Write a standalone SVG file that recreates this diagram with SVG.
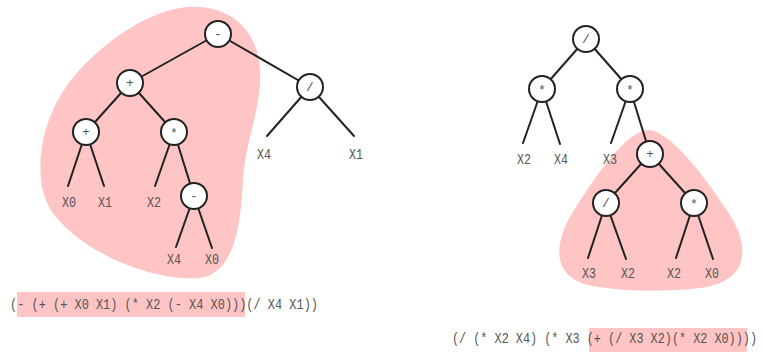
<svg xmlns="http://www.w3.org/2000/svg" width="762" height="353" viewBox="0 0 762 353">
<style>
.blob{fill:#ffc4c4;stroke:none}
.edge{stroke:#222;stroke-width:2;fill:none;stroke-linecap:round}
.node circle{fill:#fff;stroke:#222;stroke-width:2}
text{font-family:"Liberation Mono","DejaVu Sans Mono",monospace;fill:#555;font-size:15px}
.op{font-size:13px;text-anchor:middle}
.leaf{text-anchor:middle}
.hl{fill:#ffc4c4}
</style>
<rect width="762" height="353" fill="#fff"/>
<g id="highlights">
<path class="blob" d="M187 7 C230 4 258 30 260 70 C262 110 245 140 243 180 C241 220 236 268 205 277 C170 284 90 262 52 212 C32 182 38 125 68 84 C100 42 150 10 187 7 Z"/>
<path class="blob" d="M648 130 C668 130 700 170 728 212 C752 248 748 282 700 288 C665 292 620 292 588 285 C553 276 552 245 574 210 C598 172 628 130 648 130 Z"/>
<rect class="hl" x="17" y="292" width="228" height="25"/>
<rect class="hl" x="589" y="328" width="158" height="24"/>
</g>
<g id="connectors">
<line class="edge" x1="218" y1="34" x2="130" y2="83"/>
<line class="edge" x1="218" y1="34" x2="310" y2="87"/>
<line class="edge" x1="130" y1="83" x2="86" y2="132"/>
<line class="edge" x1="130" y1="83" x2="174" y2="132"/>
<line class="edge" x1="310" y1="87" x2="267" y2="136"/>
<line class="edge" x1="310" y1="87" x2="354" y2="136"/>
<line class="edge" x1="86" y1="132" x2="68" y2="186"/>
<line class="edge" x1="86" y1="132" x2="104" y2="186"/>
<line class="edge" x1="174" y1="132" x2="155" y2="186"/>
<line class="edge" x1="174" y1="132" x2="194" y2="196"/>
<line class="edge" x1="194" y1="196" x2="176" y2="247"/>
<line class="edge" x1="194" y1="196" x2="212" y2="248"/>
<line class="edge" x1="586" y1="39" x2="542" y2="89"/>
<line class="edge" x1="586" y1="39" x2="630" y2="89"/>
<line class="edge" x1="542" y1="89" x2="523" y2="143"/>
<line class="edge" x1="542" y1="89" x2="560" y2="144"/>
<line class="edge" x1="630" y1="89" x2="611" y2="143"/>
<line class="edge" x1="630" y1="89" x2="650" y2="154"/>
<line class="edge" x1="650" y1="154" x2="606" y2="203"/>
<line class="edge" x1="650" y1="154" x2="694" y2="203"/>
<line class="edge" x1="606" y1="203" x2="588" y2="258"/>
<line class="edge" x1="606" y1="203" x2="626" y2="259"/>
<line class="edge" x1="694" y1="203" x2="676" y2="258"/>
<line class="edge" x1="694" y1="203" x2="713" y2="259"/>
</g>
<g id="n-root-minus" class="node"><circle cx="218" cy="34" r="13"/><text class="op" x="218" y="38">-</text></g>
<g id="n-plus1" class="node"><circle cx="130" cy="83" r="13"/><text class="op" x="130" y="87">+</text></g>
<g id="n-div1" class="node"><circle cx="310" cy="87" r="13"/><text class="op" x="310" y="91">/</text></g>
<g id="n-plus2" class="node"><circle cx="86" cy="132" r="13"/><text class="op" x="86" y="136">+</text></g>
<g id="n-mul1" class="node"><circle cx="174" cy="132" r="13"/><text class="op" x="174" y="137">*</text></g>
<g id="n-minus2" class="node"><circle cx="194" cy="196" r="13"/><text class="op" x="194" y="200">-</text></g>
<g id="n-div2" class="node"><circle cx="586" cy="39" r="13"/><text class="op" x="586" y="43">/</text></g>
<g id="n-mul2" class="node"><circle cx="542" cy="89" r="13"/><text class="op" x="542" y="94">*</text></g>
<g id="n-mul3" class="node"><circle cx="630" cy="89" r="13"/><text class="op" x="630" y="94">*</text></g>
<g id="n-plus3" class="node"><circle cx="650" cy="154" r="13"/><text class="op" x="650" y="158">+</text></g>
<g id="n-div3" class="node"><circle cx="606" cy="203" r="13"/><text class="op" x="606" y="207">/</text></g>
<g id="n-mul4" class="node"><circle cx="694" cy="203" r="13"/><text class="op" x="694" y="208">*</text></g>
<g id="leaves">
<text class="leaf" x="69" y="207" textLength="14" lengthAdjust="spacingAndGlyphs">X0</text>
<text class="leaf" x="105" y="207" textLength="14" lengthAdjust="spacingAndGlyphs">X1</text>
<text class="leaf" x="154" y="207" textLength="14" lengthAdjust="spacingAndGlyphs">X2</text>
<text class="leaf" x="174" y="264" textLength="14" lengthAdjust="spacingAndGlyphs">X4</text>
<text class="leaf" x="212" y="264" textLength="14" lengthAdjust="spacingAndGlyphs">X0</text>
<text class="leaf" x="264" y="159" textLength="14" lengthAdjust="spacingAndGlyphs">X4</text>
<text class="leaf" x="356" y="159" textLength="14" lengthAdjust="spacingAndGlyphs">X1</text>
<text class="leaf" x="524" y="164" textLength="14" lengthAdjust="spacingAndGlyphs">X2</text>
<text class="leaf" x="561" y="164" textLength="14" lengthAdjust="spacingAndGlyphs">X4</text>
<text class="leaf" x="610" y="164" textLength="14" lengthAdjust="spacingAndGlyphs">X3</text>
<text class="leaf" x="589" y="278" textLength="14" lengthAdjust="spacingAndGlyphs">X3</text>
<text class="leaf" x="628" y="278" textLength="14" lengthAdjust="spacingAndGlyphs">X2</text>
<text class="leaf" x="674" y="278" textLength="14" lengthAdjust="spacingAndGlyphs">X2</text>
<text class="leaf" x="712" y="278" textLength="14" lengthAdjust="spacingAndGlyphs">X0</text>
</g>
<g id="expressions">
<text x="10" y="309" textLength="308" lengthAdjust="spacingAndGlyphs" xml:space="preserve">(- (+ (+ X0 X1) (* X2 (- X4 X0)))(/ X4 X1))</text>
<text x="452" y="343" textLength="305" lengthAdjust="spacingAndGlyphs" xml:space="preserve">(/ (* X2 X4) (* X3 (+ (/ X3 X2)(* X2 X0))))</text>
</g>
</svg>
